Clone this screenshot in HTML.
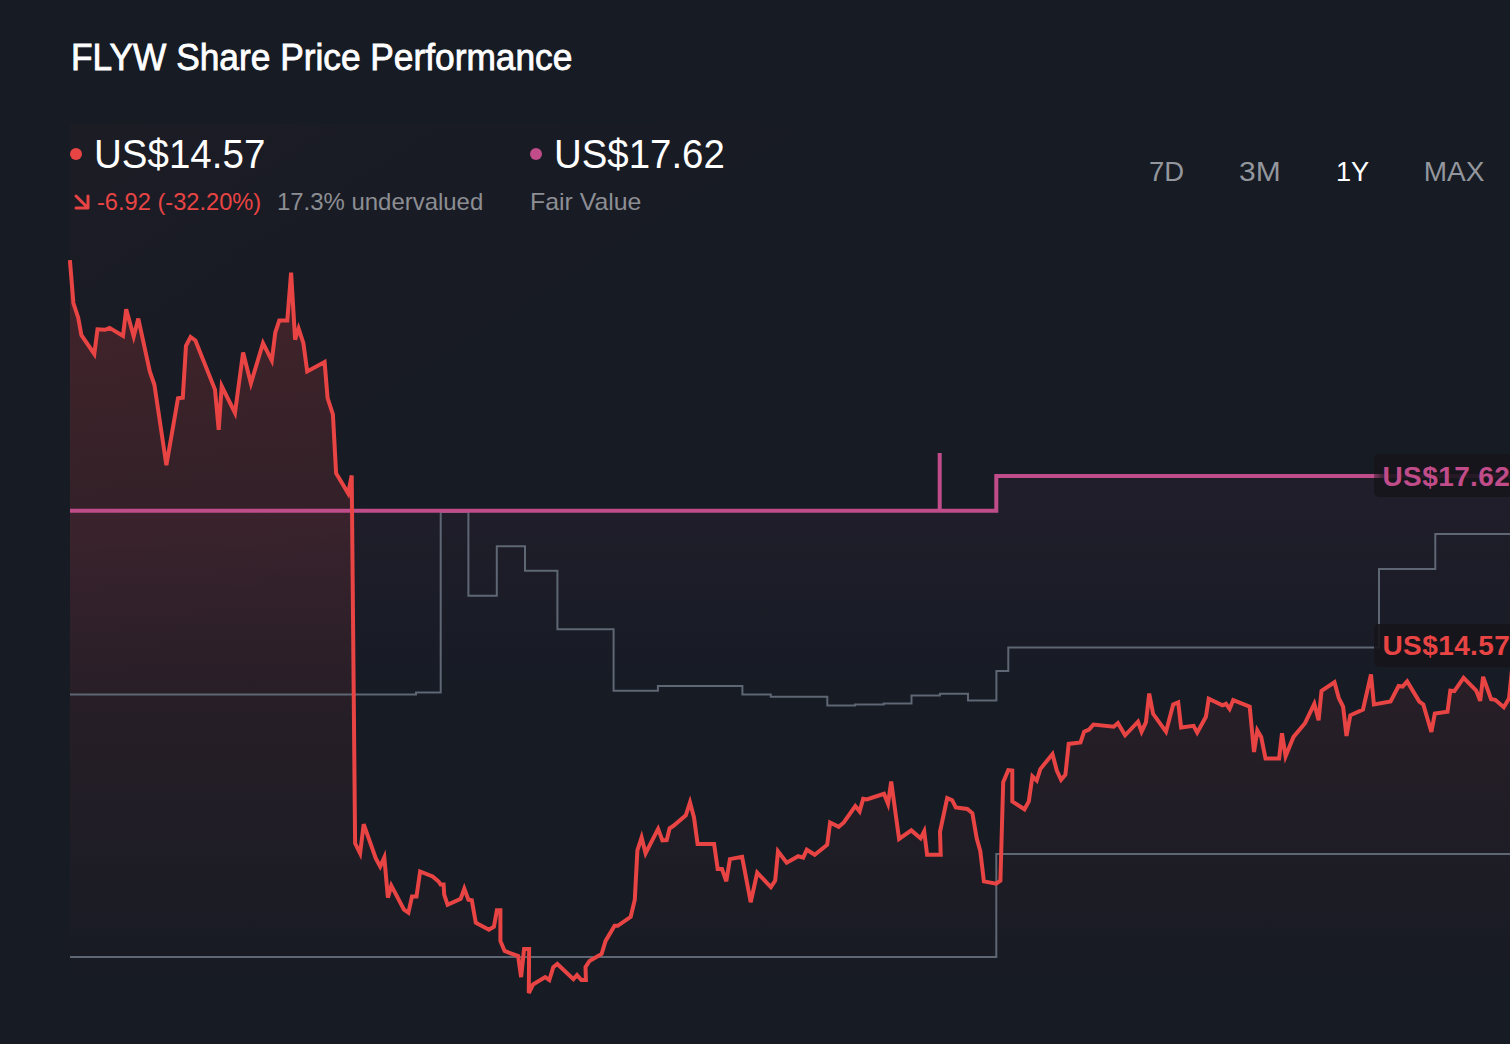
<!DOCTYPE html>
<html><head><meta charset="utf-8">
<style>
html,body{margin:0;padding:0;}
body{width:1510px;height:1044px;overflow:hidden;background:#161b24;position:relative;font-family:"Liberation Sans",sans-serif;}
.t{position:absolute;white-space:nowrap;line-height:1;transform-origin:0 0;}
svg{position:absolute;left:0;top:0;}
</style></head><body>
<svg width="1510" height="1044" viewBox="0 0 1510 1044">
<defs>
<linearGradient id="gr" x1="0" y1="260" x2="0" y2="1000" gradientUnits="userSpaceOnUse">
<stop offset="0" stop-color="#e84242" stop-opacity="0.2"/>
<stop offset="1" stop-color="#e84242" stop-opacity="0"/>
</linearGradient>
<linearGradient id="gp" x1="0" y1="453" x2="0" y2="700" gradientUnits="userSpaceOnUse">
<stop offset="0" stop-color="#c04c8a" stop-opacity="0.07"/>
<stop offset="1" stop-color="#c04c8a" stop-opacity="0"/>
</linearGradient>
<linearGradient id="gb" x1="0" y1="0" x2="1" y2="1">
<stop offset="0" stop-color="#e84242" stop-opacity="0.028"/>
<stop offset="0.34" stop-color="#e84242" stop-opacity="0"/>
</linearGradient>
<linearGradient id="glow" x1="0" y1="0" x2="1" y2="0">
<stop offset="0" stop-color="#c04c8a" stop-opacity="0.6"/>
<stop offset="1" stop-color="#c04c8a" stop-opacity="0"/>
</linearGradient>
</defs>
<rect x="70" y="124" width="1440" height="920" fill="url(#gb)"/>
<polygon points="70,510.7 996.3,510.7 996.3,476 1512,476 1512,1044 70,1044" fill="url(#gp)"/>
<polygon points="69.9,260.1 73.4,303 78.2,317.7 81.4,335.2 94.3,354 97.5,329.3 105,329.8 109.6,327.9 123,336 126.2,309.2 133.7,336.5 138.3,318.6 149.8,371.4 154.4,384.8 166.4,465.2 178,398.2 182.8,397.6 186,345.9 190.6,337 195.4,340.5 215,389.6 218.7,429.8 221.7,386.1 235,412.9 243.1,352.6 250.9,383.4 263,343.2 271.8,360.6 275.3,332.5 279.3,320.4 287.3,320.4 291.1,272.7 295.1,339.7 298.6,328.5 303.4,343.2 307.2,371.4 324.6,362 327.6,398.2 332.9,414.3 336.1,473.2 348.2,493.4 351.7,475.4 355.1,843.3 360.1,853.4 363.7,824.2 375.8,858.4 380.2,866.5 384.3,857.4 387.9,897.6 391.3,885.6 404,909.7 408.4,912.7 412,896.6 416.5,896.6 420.1,871.5 432.6,876.5 438.6,881.5 440.6,884.6 443.6,884.6 444.2,894.6 447.6,904.7 460.7,898.7 464.3,888.6 468.4,899.7 471.8,900.3 475.8,922.8 488.9,929.8 493.9,926.8 496.9,910.3 500.4,910.3 500.4,940.9 504.6,951 518.1,956 521.1,977.1 524.1,949 529.1,949 528.8,993 533,984.5 545.2,977.1 549.3,980.1 553.3,967.1 557.3,964 573.4,979.1 577,975.1 581.4,980.1 585.9,980.1 585.5,967.1 589.5,961 601.6,954 605.6,940.9 614.6,925.8 617.7,925.8 630.7,916.8 634.8,899.7 637.4,850.4 641.6,837.5 645.6,853.3 658.1,828.9 662.4,840.4 666.7,840.1 669.6,828.2 673.2,826 685.8,815.3 690,802.3 694,817.4 697.6,844 714.1,844 717.7,869.1 722,869.1 726.3,881.3 729.9,859.1 742.1,856.9 750.7,902.2 757.2,872.7 770.9,887.1 775.2,880.6 778,851.2 786.7,862.7 798.2,856.2 803.2,857.6 806.8,849.7 814.7,854.8 827.2,844.8 830.1,822.5 838.7,826.8 843.8,822.5 855.3,806 859.6,811.4 863.2,798.8 866.8,799.5 884,793.8 888,803.8 891.2,781.6 899.1,839 911.3,830.4 920.6,838.3 924.2,831.2 927.1,854.8 940.7,854.8 940,831.8 947.2,798.1 952.2,800.2 955.8,807.4 967.3,808.9 972.4,813.2 976.7,838.3 980.3,851.2 983.9,881.4 996.1,883.6 1000.4,880.7 1003.2,782.3 1008.3,770.1 1012.3,770.5 1012.3,801.4 1024.5,809.3 1028.8,801.4 1032.4,776.3 1036.7,780.6 1040.3,769.1 1052.5,754 1056.8,770.5 1061.1,779.9 1065.4,774.8 1068.7,743.9 1080.5,742.5 1084.1,731.7 1089.1,729.6 1093.4,724.5 1113.6,726.7 1117.9,723.1 1125.1,735.3 1138,721.7 1141.6,731.7 1145.9,722.4 1149.2,693.6 1153.1,713.8 1166,731.7 1173.2,704.4 1178.2,702.3 1181.1,727.4 1193.6,725.8 1197.2,732.6 1205.9,716.8 1208.7,698.8 1222.4,705.3 1226,703.8 1229.6,708.9 1233.2,700.2 1249.7,706.7 1254,752 1257.3,730.4 1261.2,736.9 1265.5,758.4 1279.1,758.4 1282,733.3 1285.6,756.3 1293.5,736.9 1305,723.2 1314.3,703.8 1318.6,720.3 1321.5,690.9 1334.5,682.3 1338.8,698.1 1343.1,706.7 1346.5,736 1350.3,715.3 1363,709.5 1371,674.5 1373.9,704.4 1390.6,701.5 1398.6,686 1402.6,686.6 1407.2,681.4 1419.3,701.5 1423.3,704.4 1431.4,732 1434.8,713.6 1447.5,711.8 1450.3,690.6 1454.4,691.1 1463.6,677.9 1476.2,690.6 1480.2,700.9 1483.1,676.8 1491.1,699.2 1495.2,699.8 1503.8,707.2 1509,698.6 1513,660 1513,1044 69.9,1044" fill="url(#gr)"/>
<polyline points="70,694.4 416,694.4 416,692.6 440.7,692.6 440.7,512 468.4,512 468.4,595.7 496.8,595.7 496.8,546.2 525,546.2 525,570.8 557.4,570.8 557.4,629.2 613.6,629.2 613.6,690.7 657.9,690.7 657.9,685.9 742.4,685.9 742.4,694.5 770.8,694.5 770.8,696.7 827.3,696.7 827.3,705.6 855.1,705.6 855.1,704.5 883.7,704.5 883.7,703.4 911.5,703.4 911.5,695.6 939.9,695.6 939.9,693.7 968,693.7 968,700.6 996.4,700.6 996.4,670.9 1008.3,670.9 1008.3,647.5 1379,647.5 1379,569 1435.3,569 1435.3,534 1512,534" fill="none" stroke="#5e6773" stroke-width="2"/>
<polyline points="70,957 996.3,957 996.3,854.1 1512,854.1" fill="none" stroke="#5e6773" stroke-width="2"/>
<polyline points="70,510.7 939.7,510.7 939.7,453 939.7,510.7 996.3,510.7 996.3,476 1512,476" fill="none" stroke="#c04c8a" stroke-width="4"/>
<polyline points="69.9,260.1 73.4,303 78.2,317.7 81.4,335.2 94.3,354 97.5,329.3 105,329.8 109.6,327.9 123,336 126.2,309.2 133.7,336.5 138.3,318.6 149.8,371.4 154.4,384.8 166.4,465.2 178,398.2 182.8,397.6 186,345.9 190.6,337 195.4,340.5 215,389.6 218.7,429.8 221.7,386.1 235,412.9 243.1,352.6 250.9,383.4 263,343.2 271.8,360.6 275.3,332.5 279.3,320.4 287.3,320.4 291.1,272.7 295.1,339.7 298.6,328.5 303.4,343.2 307.2,371.4 324.6,362 327.6,398.2 332.9,414.3 336.1,473.2 348.2,493.4 351.7,475.4 355.1,843.3 360.1,853.4 363.7,824.2 375.8,858.4 380.2,866.5 384.3,857.4 387.9,897.6 391.3,885.6 404,909.7 408.4,912.7 412,896.6 416.5,896.6 420.1,871.5 432.6,876.5 438.6,881.5 440.6,884.6 443.6,884.6 444.2,894.6 447.6,904.7 460.7,898.7 464.3,888.6 468.4,899.7 471.8,900.3 475.8,922.8 488.9,929.8 493.9,926.8 496.9,910.3 500.4,910.3 500.4,940.9 504.6,951 518.1,956 521.1,977.1 524.1,949 529.1,949 528.8,993 533,984.5 545.2,977.1 549.3,980.1 553.3,967.1 557.3,964 573.4,979.1 577,975.1 581.4,980.1 585.9,980.1 585.5,967.1 589.5,961 601.6,954 605.6,940.9 614.6,925.8 617.7,925.8 630.7,916.8 634.8,899.7 637.4,850.4 641.6,837.5 645.6,853.3 658.1,828.9 662.4,840.4 666.7,840.1 669.6,828.2 673.2,826 685.8,815.3 690,802.3 694,817.4 697.6,844 714.1,844 717.7,869.1 722,869.1 726.3,881.3 729.9,859.1 742.1,856.9 750.7,902.2 757.2,872.7 770.9,887.1 775.2,880.6 778,851.2 786.7,862.7 798.2,856.2 803.2,857.6 806.8,849.7 814.7,854.8 827.2,844.8 830.1,822.5 838.7,826.8 843.8,822.5 855.3,806 859.6,811.4 863.2,798.8 866.8,799.5 884,793.8 888,803.8 891.2,781.6 899.1,839 911.3,830.4 920.6,838.3 924.2,831.2 927.1,854.8 940.7,854.8 940,831.8 947.2,798.1 952.2,800.2 955.8,807.4 967.3,808.9 972.4,813.2 976.7,838.3 980.3,851.2 983.9,881.4 996.1,883.6 1000.4,880.7 1003.2,782.3 1008.3,770.1 1012.3,770.5 1012.3,801.4 1024.5,809.3 1028.8,801.4 1032.4,776.3 1036.7,780.6 1040.3,769.1 1052.5,754 1056.8,770.5 1061.1,779.9 1065.4,774.8 1068.7,743.9 1080.5,742.5 1084.1,731.7 1089.1,729.6 1093.4,724.5 1113.6,726.7 1117.9,723.1 1125.1,735.3 1138,721.7 1141.6,731.7 1145.9,722.4 1149.2,693.6 1153.1,713.8 1166,731.7 1173.2,704.4 1178.2,702.3 1181.1,727.4 1193.6,725.8 1197.2,732.6 1205.9,716.8 1208.7,698.8 1222.4,705.3 1226,703.8 1229.6,708.9 1233.2,700.2 1249.7,706.7 1254,752 1257.3,730.4 1261.2,736.9 1265.5,758.4 1279.1,758.4 1282,733.3 1285.6,756.3 1293.5,736.9 1305,723.2 1314.3,703.8 1318.6,720.3 1321.5,690.9 1334.5,682.3 1338.8,698.1 1343.1,706.7 1346.5,736 1350.3,715.3 1363,709.5 1371,674.5 1373.9,704.4 1390.6,701.5 1398.6,686 1402.6,686.6 1407.2,681.4 1419.3,701.5 1423.3,704.4 1431.4,732 1434.8,713.6 1447.5,711.8 1450.3,690.6 1454.4,691.1 1463.6,677.9 1476.2,690.6 1480.2,700.9 1483.1,676.8 1491.1,699.2 1495.2,699.8 1503.8,707.2 1509,698.6 1513,660" fill="none" stroke="#e84444" stroke-width="4" stroke-linejoin="miter"/>
<rect x="1374" y="454" width="150" height="43" rx="5" fill="#16151b" fill-opacity="0.9"/>
<rect x="1374" y="474" width="12" height="4" fill="url(#glow)"/>
<rect x="1374" y="624" width="150" height="43" rx="5" fill="#16151b" fill-opacity="0.9"/>
<circle cx="76" cy="154" r="6" fill="#e84444"/>
<circle cx="536" cy="154" r="6" fill="#c04c8a"/>
<path d="M76 196 L87.5 207.5 M76 208 L88 208 L88 196" stroke="#e84444" stroke-width="3" stroke-linecap="round" stroke-linejoin="round" fill="none"/>
</svg>
<div class="t" style="left:70.5px;top:40.3px;font-size:36px;color:#fff;transform:scaleX(0.98);-webkit-text-stroke:0.8px #fff;">FLYW Share Price Performance</div>
<div class="t" style="left:93.6px;top:134px;font-size:40px;color:#fff;transform:scaleX(0.963);">US$14.57</div>
<div class="t" style="left:96.6px;top:189.7px;font-size:24px;color:#e84444;transform:scaleX(0.985);">-6.92 (-32.20%)</div>
<div class="t" style="left:276.8px;top:189.7px;font-size:24px;color:#8c8e93;transform:scaleX(0.997);">17.3% undervalued</div>
<div class="t" style="left:554.1px;top:134px;font-size:40px;color:#fff;transform:scaleX(0.960);">US$17.62</div>
<div class="t" style="left:529.6px;top:189.7px;font-size:24px;color:#8c8e93;transform:scaleX(1.035);">Fair Value</div>
<div class="t" style="left:1148.9px;top:158.3px;font-size:28px;color:#93969c;transform:scaleX(0.98);">7D</div>
<div class="t" style="left:1238.8px;top:158.3px;font-size:28px;color:#93969c;transform:scaleX(1.07);">3M</div>
<div class="t" style="left:1335.7px;top:158.3px;font-size:28px;color:#ffffff;transform:scaleX(0.97);">1Y</div>
<div class="t" style="left:1423.8px;top:158.3px;font-size:28px;color:#93969c;">MAX</div>
<div class="t" style="left:1382.5px;top:462.5px;font-size:28px;font-weight:bold;letter-spacing:0.4px;color:#c04c8a;">US$17.62</div>
<div class="t" style="left:1382.5px;top:632.3px;font-size:28px;font-weight:bold;letter-spacing:0.4px;color:#e84444;">US$14.57</div>
</body></html>
